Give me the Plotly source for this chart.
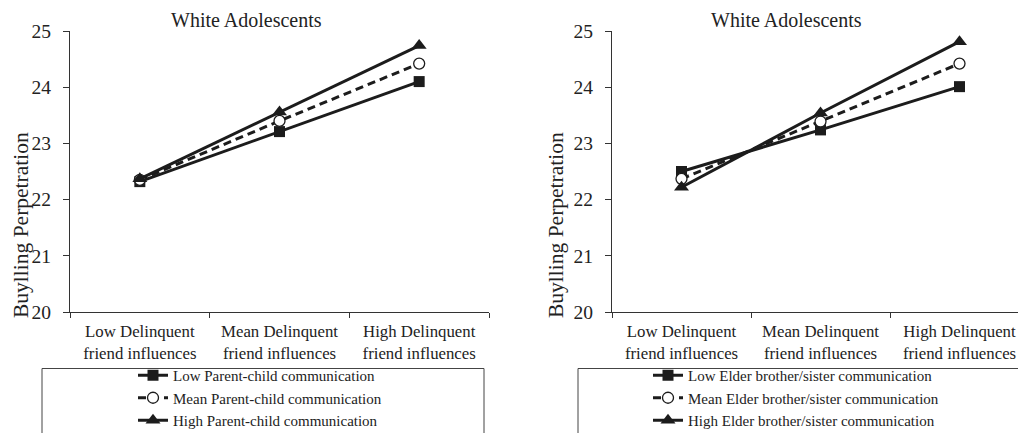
import plotly.graph_objects as go

categories = ["Low Delinquent<br>friend influences", "Mean Delinquent<br>friend influences", "High Delinquent<br>friend influences"]
x_pos = [0.5, 1.5, 2.5]

left_names = ["Low Parent-child communication", "Mean Parent-child communication", "High Parent-child communication"]
left_low = [22.32, 23.21, 24.10]
left_mean = [22.35, 23.40, 24.42]
left_high = [22.37, 23.56, 24.74]

right_names = ["Low Elder brother/sister communication", "Mean Elder brother/sister communication", "High Elder brother/sister communication"]
right_low = [22.50, 23.24, 24.01]
right_mean = [22.37, 23.39, 24.42]
right_high = [22.22, 23.54, 24.81]

panel_title = "White Adolescents"
y_title = "Buylling Perpetration"
y_ticks = [20, 21, 22, 23, 24, 25]

FONT = "Liberation Serif"
INK = "#1c1c1c"
TXT = "#222222"
W, H = 1026, 433
OFF = 8  # the page places the figure 8px from the top-left corner


def px(xp):
    return (xp - OFF) / W


def py(yp):
    return 1 - (yp - OFF) / H


styles = [
    dict(line=dict(color=INK, width=3), marker=dict(symbol="square", size=11, color=INK)),
    dict(line=dict(color=INK, width=3, dash="8px,5px"),
         marker=dict(symbol="circle", size=11, color="white", line=dict(color=INK, width=1.3))),
    dict(line=dict(color=INK, width=3), marker=dict(symbol="triangle-up", size=13, color=INK)),
]

fig = go.Figure()
for names, series, xa, ya, lg in [
    (left_names, [left_low, left_mean, left_high], "x", "y", "legend"),
    (right_names, [right_low, right_mean, right_high], "x2", "y2", "legend2"),
]:
    for name, vals, st in zip(names, series, styles):
        fig.add_trace(go.Scatter(x=x_pos, y=vals, name=name, mode="lines+markers",
                                 line=st["line"], marker=st["marker"],
                                 xaxis=xa, yaxis=ya, legend=lg, cliponaxis=False))

ydom = [py(312), py(31)]
common_x = dict(range=[0, 3], tickmode="array", tickvals=x_pos, ticktext=categories,
                ticks="", showline=True, linecolor="#333", linewidth=1, showgrid=False,
                zeroline=False, tickfont=dict(family=FONT, size=16.8, color=TXT),
                ticklabelstandoff=4,
                minor=dict(tickmode="array", tickvals=[0, 1, 2, 3], ticks="outside",
                           ticklen=5, tickcolor="#333", tickwidth=1, showgrid=False),
                automargin=False, fixedrange=True)
common_y = dict(range=[20, 25], tickmode="array", tickvals=y_ticks, ticks="outside",
                ticklen=6, tickcolor="#333", showline=True, linecolor="#333", linewidth=1,
                showgrid=False, zeroline=False, automargin=False, ticklabelstandoff=8,
                tickfont=dict(family=FONT, size=19.5, color=TXT), fixedrange=True)

legend_common = dict(xanchor="left", yanchor="top", y=py(359),
                     font=dict(family=FONT, size=15, color=TXT), bgcolor="rgba(0,0,0,0)",
                     tracegroupgap=0, itemclick=False, itemdoubleclick=False)

fig.update_layout(
    width=W, height=H, margin=dict(l=0, r=0, t=0, b=0, autoexpand=False),
    paper_bgcolor="white", plot_bgcolor="white",
    font=dict(family=FONT, color=TXT),
    xaxis=dict(domain=[px(70), px(489)], anchor="y", **common_x),
    yaxis=dict(domain=ydom, anchor="x", **common_y),
    xaxis2=dict(domain=[px(612), px(1029)], anchor="y2", **common_x),
    yaxis2=dict(domain=ydom, anchor="x2", **common_y),
    legend=dict(x=px(133), **legend_common),
    legend2=dict(x=px(648), **legend_common),
    showlegend=True,
)

# legend frames (open at the bottom, running off the page)
for x0, x1 in [(42, 484), (578, 1040)]:
    fig.add_shape(type="rect", xref="paper", yref="paper",
                  x0=px(x0), x1=px(x1), y0=-0.1, y1=py(368.5),
                  line=dict(color="#444", width=1), fillcolor="rgba(0,0,0,0)")

# panel titles and y-axis titles
for cx in [246, 786]:
    fig.add_annotation(text=panel_title, xref="paper", yref="paper", x=px(cx), y=1.0,
                       showarrow=False, xanchor="center", yanchor="top", borderpad=0,
                       font=dict(family=FONT, size=20, color=TXT))
fig.add_annotation(text=y_title, xref="paper", yref="paper", x=0.0, y=py(225),
                   showarrow=False, xanchor="left", yanchor="middle", textangle=-90, borderpad=0,
                   font=dict(family=FONT, size=21.5, color=TXT))
fig.add_annotation(text=y_title, xref="paper", yref="paper", x=px(556), y=py(225),
                   showarrow=False, xanchor="center", yanchor="middle", textangle=-90,
                   font=dict(family=FONT, size=21.5, color=TXT))

fig.write_html("out.html")
